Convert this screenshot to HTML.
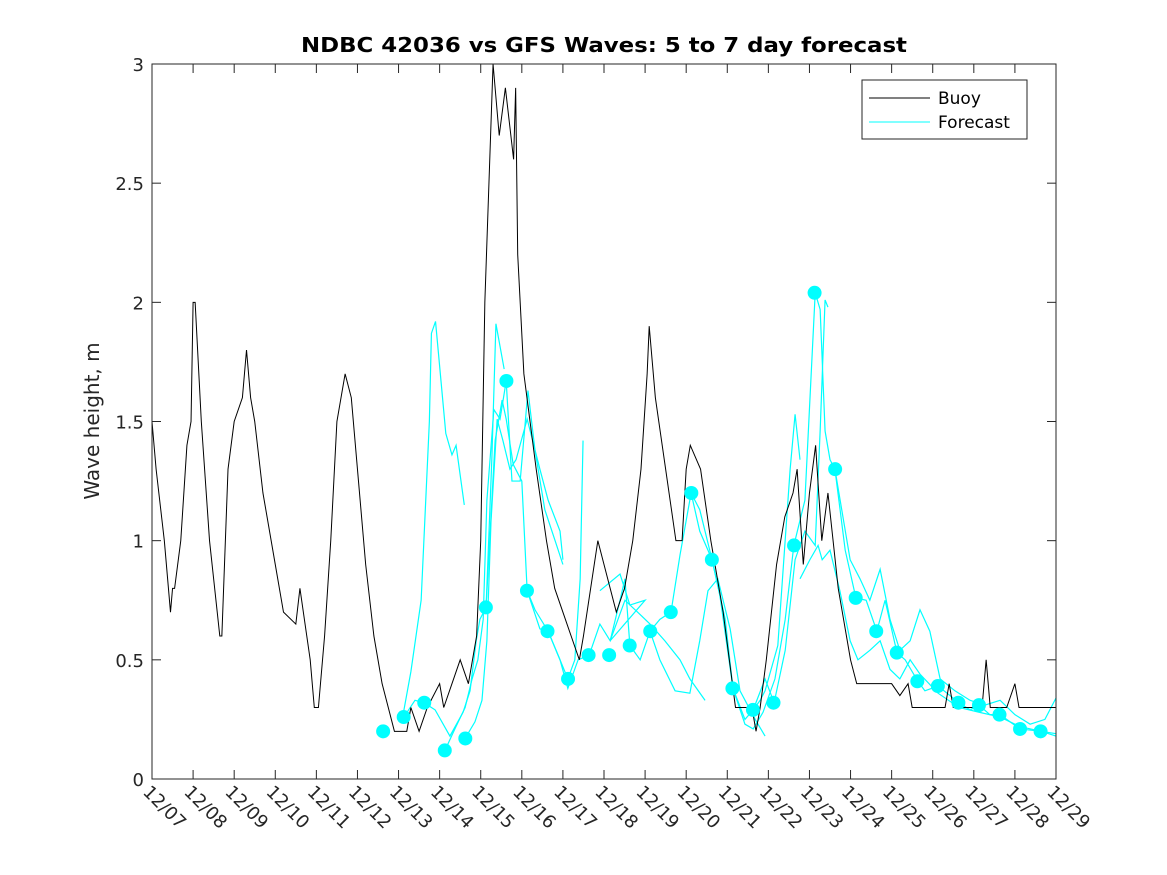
<!DOCTYPE html>
<html><head><meta charset="utf-8"><style>
body{margin:0;background:#fff;}
svg{display:block;font-family:"DejaVu Sans","Liberation Sans",sans-serif;}
</style></head><body>
<svg id="chart" width="1167" height="875" viewBox="0 0 1167 875">
<rect x="0" y="0" width="1167" height="875" fill="#fff"/>
<text x="604" y="52" text-anchor="middle" font-size="20" font-weight="bold" fill="#000" textLength="606" lengthAdjust="spacingAndGlyphs">NDBC 42036 vs GFS Waves: 5 to 7 day forecast</text>
<text transform="translate(99,421) rotate(-90)" text-anchor="middle" font-size="20" fill="#262626">Wave height, m</text>
<g id="plot"></g>
<rect x="152" y="64" width="904" height="715" fill="none" stroke="#262626" stroke-width="1"/>
<g>
<rect x="862" y="80" width="165" height="59" fill="#fff" stroke="#262626" stroke-width="1"/>
<line x1="869" y1="98" x2="930" y2="98" stroke="#000" stroke-width="1"/>
<text x="938" y="104" font-size="17" fill="#000">Buoy</text>
<line x1="869" y1="122" x2="930" y2="122" stroke="#00ffff" stroke-width="1"/>
<text x="938" y="128" font-size="17" fill="#000">Forecast</text>
</g>
</svg>
<script>
const xTickLabels=["12/07","12/08","12/09","12/10","12/11","12/12","12/13","12/14","12/15","12/16","12/17","12/18","12/19","12/20","12/21","12/22","12/23","12/24","12/25","12/26","12/27","12/28","12/29"];
const yTicks=[0,0.5,1,1.5,2,2.5,3];
const yTickLabels=["0","0.5","1","1.5","2","2.5","3"];
const buoyDay=[0,0.1,0.3,0.45,0.5,0.55,0.7,0.85,0.95,1.0,1.05,1.2,1.4,1.65,1.7,1.85,2.0,2.2,2.3,2.4,2.5,2.7,3.0,3.2,3.5,3.6,3.85,3.95,4.05,4.2,4.35,4.5,4.7,4.85,5.0,5.2,5.4,5.6,5.75,5.9,6.2,6.3,6.5,6.7,7.0,7.1,7.3,7.5,7.7,7.9,8.0,8.1,8.2,8.3,8.45,8.6,8.8,8.85,8.9,9.05,9.2,9.35,9.6,9.8,10.0,10.2,10.4,10.5,10.85,11.0,11.3,11.5,11.7,11.9,12.05,12.1,12.25,12.5,12.75,12.9,13.0,13.1,13.35,13.6,13.7,13.9,14.05,14.2,14.6,14.7,14.8,14.95,15.2,15.4,15.6,15.7,15.85,16.0,16.15,16.3,16.45,16.7,16.9,17.0,17.15,18.0,18.2,18.4,18.5,19.3,19.4,19.5,20.2,20.3,20.4,20.8,21.0,21.1,21.4,22.0];
const buoyVal=[1.5,1.3,1.0,0.7,0.8,0.8,1.0,1.4,1.5,2.0,2.0,1.5,1.0,0.6,0.6,1.3,1.5,1.6,1.8,1.6,1.5,1.2,0.9,0.7,0.65,0.8,0.5,0.3,0.3,0.6,1.0,1.5,1.7,1.6,1.3,0.9,0.6,0.4,0.3,0.2,0.2,0.3,0.2,0.3,0.4,0.3,0.4,0.5,0.4,0.6,1.0,2.0,2.5,3.0,2.7,2.9,2.6,2.9,2.2,1.7,1.5,1.3,1.0,0.8,0.7,0.6,0.5,0.6,1.0,0.9,0.7,0.8,1.0,1.3,1.7,1.9,1.6,1.3,1.0,1.0,1.3,1.4,1.3,1.0,0.9,0.7,0.5,0.3,0.3,0.2,0.3,0.5,0.9,1.1,1.2,1.3,0.9,1.2,1.4,1.0,1.2,0.8,0.6,0.5,0.4,0.4,0.35,0.4,0.3,0.3,0.4,0.3,0.3,0.5,0.3,0.3,0.4,0.3,0.3,0.3];
const dotDay=[5.625,6.125,6.625,7.125,7.625,8.125,8.625,9.125,9.625,10.125,10.625,11.125,11.625,12.125,12.625,13.125,13.625,14.125,14.625,15.125,15.625,16.125,16.625,17.125,17.625,18.125,18.625,19.125,19.625,20.125,20.625,21.125,21.625];
const dotVal=[0.20,0.26,0.32,0.12,0.17,0.72,1.67,0.79,0.62,0.42,0.52,0.52,0.56,0.62,0.70,1.20,0.92,0.38,0.29,0.32,0.98,2.04,1.30,0.76,0.62,0.53,0.41,0.39,0.32,0.31,0.27,0.21,0.20];
const fcDay1=[6.1,6.3,6.55,6.75,6.8,6.9,7.15,7.3,7.4,7.6];
const fcVal1=[0.26,0.45,0.75,1.5,1.87,1.92,1.45,1.36,1.40,1.15];
const fcDay2=[6.13,6.40,6.62,6.89,7.25,7.57,7.74,7.89,7.98,8.13,8.27,8.37,8.57];
const fcVal2=[0.26,0.33,0.32,0.29,0.18,0.28,0.37,0.58,0.67,0.72,1.34,1.91,1.72];
const fcDay3=[7.13,7.37,7.62,7.79,7.93,8.06,8.15,8.32,8.47,8.62,8.76,8.96,9.15,9.32,9.56,9.81,10.0];
const fcVal3=[0.12,0.21,0.30,0.42,0.50,0.67,1.17,1.55,1.51,1.67,1.25,1.25,1.63,1.38,1.13,1.00,0.90];
const fcDay4=[7.62,7.86,8.03,8.15,8.25,8.40,8.54,8.71,8.86,9.13,9.44,9.64,9.93,10.0];
const fcVal4=[0.17,0.24,0.33,0.58,1.08,1.51,1.42,1.30,1.34,1.51,1.30,1.17,1.04,0.92];
const fcDay5=[8.13,8.35,8.52,8.62,8.79,9.00,9.13,9.32,9.64,9.93,10.12,10.29,10.42,10.49];
const fcVal5=[0.72,1.42,1.59,1.51,1.32,1.25,0.79,0.71,0.62,0.50,0.42,0.50,0.84,1.42];
const fcDay6=[9.13,9.44,9.64,9.93,10.12,10.37,10.64,10.90,11.15,11.39,11.51,11.63,11.88,12.12,12.36,12.63];
const fcVal6=[0.79,0.63,0.62,0.50,0.38,0.50,0.52,0.65,0.58,0.75,0.84,0.56,0.50,0.62,0.67,0.70];
const fcDay7=[10.90,11.39,11.63,12.0,11.15,11.51,11.88,12.12,12.48,12.85,13.09,13.46];
const fcVal7=[0.79,0.86,0.73,0.75,0.58,0.75,0.69,0.65,0.58,0.50,0.42,0.33];
const fcDay8=[12.12,12.36,12.73,13.09,13.33,13.53,13.77,14.07,14.31,14.68,14.92];
const fcVal8=[0.62,0.50,0.37,0.36,0.58,0.79,0.84,0.63,0.37,0.25,0.18];
const fcDay9=[12.63,12.85,13.12,13.33,13.63,13.95,14.14,14.43,14.63,14.80,14.92,15.23,15.53,15.65,15.77];
const fcVal9=[0.70,0.94,1.20,1.04,0.92,0.67,0.38,0.25,0.29,0.33,0.37,0.56,1.30,1.53,1.34];
const fcDay10=[13.12,13.33,13.63,13.82,14.14,14.43,14.63,14.87,15.16,15.41,15.62,15.89,16.14,16.26,16.38,16.50,16.62,16.87,17.13,17.38,17.64,17.84,18.13,18.33,18.64,18.81,19.13,19.42,19.64,19.91,20.13,20.39,20.64,21.12,21.64,22.0];
const fcVal10=[1.20,1.13,0.92,0.77,0.38,0.23,0.21,0.28,0.42,0.67,0.98,1.17,2.04,1.97,1.46,1.34,1.30,0.96,0.76,0.75,0.62,0.75,0.53,0.50,0.41,0.37,0.39,0.35,0.32,0.29,0.31,0.27,0.27,0.21,0.20,0.18];
const fcDay11=[14.63,14.92,15.14,15.41,15.65,15.89,16.14,16.26,16.38,16.45];
const fcVal11=[0.29,0.42,0.32,0.54,0.92,1.04,0.98,1.46,2.01,1.98];
const fcDay12=[16.62,16.99,17.23,17.47,17.72,17.96,18.20,18.45,18.69,18.93,19.18,19.54,19.91,20.27,20.64,21.00,21.37,21.73,22.0];
const fcVal12=[1.30,0.92,0.84,0.75,0.88,0.67,0.54,0.58,0.71,0.62,0.42,0.37,0.33,0.31,0.33,0.27,0.23,0.25,0.34];
const fcDay13=[15.77,16.01,16.21,16.31,16.50,16.74,16.99,17.18,17.47,17.72,17.96,18.20,18.45,18.69,19.13,19.64,20.13,20.64,21.12,21.64,22.0];
const fcVal13=[0.84,0.92,0.98,0.92,0.96,0.79,0.58,0.50,0.54,0.58,0.46,0.42,0.50,0.44,0.36,0.30,0.28,0.26,0.22,0.20,0.19];
const fcDays=[fcDay1,fcDay2,fcDay3,fcDay4,fcDay5,fcDay6,fcDay7,fcDay8,fcDay9,fcDay10,fcDay11,fcDay12,fcDay13];
const fcVals=[fcVal1,fcVal2,fcVal3,fcVal4,fcVal5,fcVal6,fcVal7,fcVal8,fcVal9,fcVal10,fcVal11,fcVal12,fcVal13];

const X0=152,X1=1056,Y0=779,Y1=64;
function xs(d){return X0+(X1-X0)*d/22;}
function ys(v){return Y0-(Y0-Y1)*v/3;}
const NS="http://www.w3.org/2000/svg";
const plot=document.getElementById('plot');
function mk(t,a,p){const e=document.createElementNS(NS,t);for(const k in a)e.setAttribute(k,a[k]);(p||plot).appendChild(e);return e;}

xTickLabels.forEach((lab,i)=>{
  const x=xs(i);
  const t1=mk('line',{x1:x,y1:Y0,x2:x,y2:Y0-9,stroke:'#262626'});
  
  
  const t2=mk('line',{x1:x,y1:Y1,x2:x,y2:Y1+9,stroke:'#262626'});
  
  
  const tx=mk('text',{x:0,y:0,'font-size':18,fill:'#262626',transform:`translate(${x-10},${Y0+14}) rotate(45)`});
  tx.textContent=lab;
  
  
});
yTicks.forEach((v,i)=>{
  const y=ys(v);
  const t1=mk('line',{x1:X0,y1:y,x2:X0+9,y2:y,stroke:'#262626'});
  
  
  const t2=mk('line',{x1:X1,y1:y,x2:X1-9,y2:y,stroke:'#262626'});
  
  
  const tx=mk('text',{x:X0-8,y:y+7,'text-anchor':'end','font-size':18,fill:'#262626'});
  tx.textContent=yTickLabels[i];
  
  
});
fcDays.forEach((ds,i)=>{
  const pts=ds.map((d,j)=>xs(d)+','+ys(fcVals[i][j])).join(' ');
  const pl=mk('polyline',{points:pts,fill:'none',stroke:'#00ffff','stroke-width':1.2});
  
  
});
{
  const pts=buoyDay.map((d,j)=>xs(d)+','+ys(buoyVal[j])).join(' ');
  const pl=mk('polyline',{points:pts,fill:'none',stroke:'#000','stroke-width':1});
  
  
}
dotDay.forEach((d,i)=>{
  const c=mk('circle',{cx:xs(d),cy:ys(dotVal[i]),r:7,fill:'#00ffff'});
  
  
});
</script>
</body></html>
